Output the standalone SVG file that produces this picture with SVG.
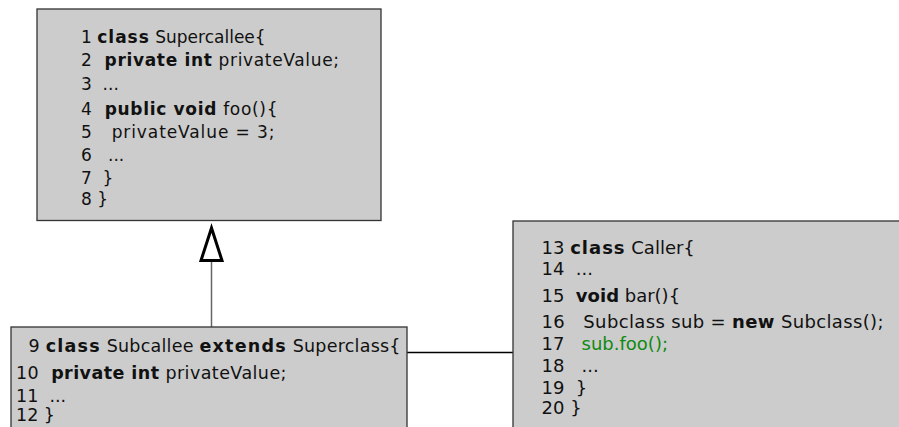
<svg xmlns="http://www.w3.org/2000/svg" width="899" height="427" viewBox="0 0 899 427">
<style>
.box{fill:#cccccc;stroke:#333333;stroke-width:1.3}
text{font-family:"DejaVu Sans","Liberation Sans",sans-serif;fill:#111111;white-space:pre}
.t1{font-size:17px}
.t2{font-size:17.5px}
.t3{font-size:18px}
.b{font-weight:bold}
.kw{font-weight:bold;letter-spacing:1px}
.g{fill:#108a10}
</style>
<rect width="899" height="427" fill="#ffffff"/>
<g id="connectors">
<line x1="211.5" y1="262" x2="211.5" y2="327" stroke="#666666" stroke-width="1.5"/>
<polygon points="211.5,228 201,260.5 222,260.5" fill="#ffffff" stroke="#000000" stroke-width="3"/>
<line x1="407" y1="352.5" x2="513" y2="352.5" stroke="#000000" stroke-width="1.3"/>
</g>
<g id="supercallee">
<rect class="box" x="37" y="9" width="344" height="211.5"/>
<text class="t1" xml:space="preserve" x="81" y="42.5">1 <tspan class="kw">class</tspan> Supercallee{</text>
<text class="t1" xml:space="preserve" x="81" y="66" textLength="258" lengthAdjust="spacing">2  <tspan class="b">private int</tspan> privateValue;</text>
<text class="t1" xml:space="preserve" x="81" y="90.3">3  ...</text>
<text class="t1" xml:space="preserve" x="81" y="115" textLength="196.5" lengthAdjust="spacing">4  <tspan class="b">public void</tspan> foo(){</text>
<text class="t1" xml:space="preserve" x="81" y="137.5" textLength="193.5" lengthAdjust="spacing">5   privateValue = 3;</text>
<text class="t1" xml:space="preserve" x="81" y="161">6   ...</text>
<text class="t1" xml:space="preserve" x="81" y="184">7  }</text>
<text class="t1" xml:space="preserve" x="81" y="204.5">8 }</text>
</g>
<g id="subcallee">
<rect class="box" x="11" y="327" width="396" height="120"/>
<text class="t2" xml:space="preserve" x="28.5" y="351.5" textLength="372" lengthAdjust="spacing">9 <tspan class="kw">class</tspan> Subcallee <tspan class="kw">extends</tspan> Superclass{</text>
<text class="t2" xml:space="preserve" x="16" y="379" textLength="270.5" lengthAdjust="spacing">10  <tspan class="b">private int</tspan> privateValue;</text>
<text class="t2" xml:space="preserve" x="16" y="401.5">11  ...</text>
<text class="t2" xml:space="preserve" x="16" y="421">12 }</text>
</g>
<g id="caller">
<rect class="box" x="513" y="221" width="400" height="220"/>
<text class="t3" xml:space="preserve" x="541.5" y="254">13 <tspan class="kw">class</tspan> Caller{</text>
<text class="t3" xml:space="preserve" x="541.5" y="275">14  ...</text>
<text class="t3" xml:space="preserve" x="541.5" y="301.5">15  <tspan class="b">void</tspan> bar(){</text>
<text class="t3" xml:space="preserve" x="541.5" y="327.5" textLength="342" lengthAdjust="spacing">16   Subclass sub = <tspan class="b">new</tspan> Subclass();</text>
<text class="t3" xml:space="preserve" x="541.5" y="350">17   <tspan class="g">sub.foo();</tspan></text>
<text class="t3" xml:space="preserve" x="541.5" y="372">18   ...</text>
<text class="t3" xml:space="preserve" x="541.5" y="394">19  }</text>
<text class="t3" xml:space="preserve" x="541.5" y="414">20 }</text>
</g>
</svg>
